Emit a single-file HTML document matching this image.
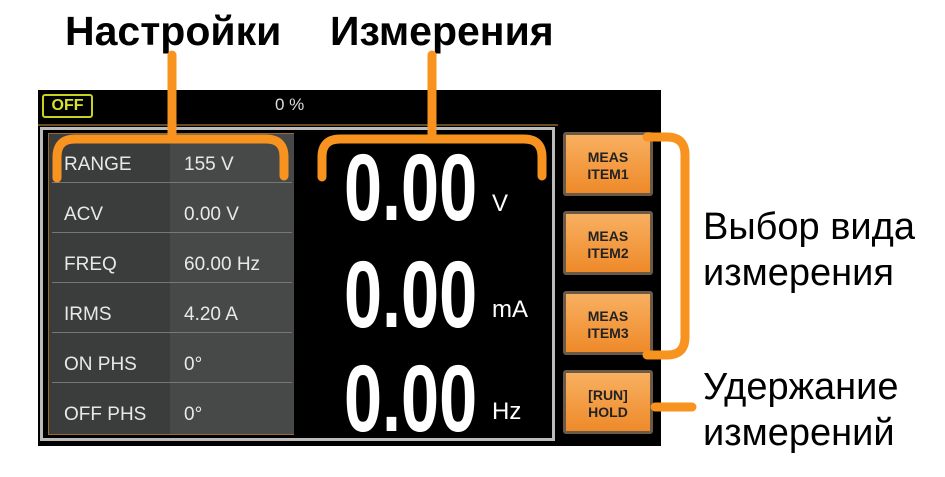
<!DOCTYPE html>
<html><head><meta charset="utf-8"><style>
body{margin:0;width:945px;height:477px;background:#fff;position:relative;overflow:hidden;font-family:"Liberation Sans",sans-serif}
.a{position:absolute}
.h{font-weight:bold;font-size:41px;color:#000}
.r{font-size:38px;color:#000;line-height:46px}
.row{position:absolute;left:52px;width:240px;height:48px;border-bottom:1px solid #777;color:#e8e8e8;font-size:19px}
.row span{position:absolute;top:20px}
.dig{position:absolute;left:344px;color:#fff;font-size:95px;line-height:95px;transform:scaleX(0.72);transform-origin:left;font-weight:bold;letter-spacing:0px}
.u{position:absolute;color:#fff;font-size:24px}
.btn{position:absolute;left:563px;width:90px;height:64px;background:linear-gradient(#f8b060,#ee8a2a);border:3px solid #6b5a48;border-radius:3px;box-sizing:border-box;color:#222;font-weight:bold;font-size:14px;text-align:center;line-height:17px;padding-top:14px}
</style></head><body>
<div class="a h" style="left:65px;top:8px">Настройки</div>
<div class="a h" style="left:330px;top:8px">Измерения</div>
<div class="a r" style="left:703px;top:204px">Выбор вида<br>измерения</div>
<div class="a r" style="left:703px;top:364px">Удержание<br>измерений</div>

<div class="a" style="left:38px;top:90px;width:623px;height:356px;background:#000"></div>
<div class="a" style="left:42px;top:94px;width:47px;height:20px;border:2px solid #c8d020;border-radius:3px;color:#d8e030;font-weight:bold;font-size:16px;text-align:center;line-height:20px">OFF</div>
<div class="a" style="left:275px;top:95px;color:#ddd;font-size:17px">0 %</div>
<div class="a" style="left:38px;top:124px;width:520px;height:2px;background:#6a4a20"></div>
<div class="a" style="left:40px;top:127px;width:515px;height:314px;border:3px solid #bbb;box-sizing:border-box"></div>
<div class="a" style="left:48px;top:133px;width:246px;height:302px;background:#3b3d3d;border:1px solid #9a6a30;box-sizing:border-box"></div>
<div class="a" style="left:170px;top:134px;width:124px;height:300px;background:#474949"></div>

<div class="row" style="top:134px"><span style="left:12px">RANGE</span><span style="left:132px">155 V</span></div>
<div class="row" style="top:184px"><span style="left:12px">ACV</span><span style="left:132px">0.00 V</span></div>
<div class="row" style="top:234px"><span style="left:12px">FREQ</span><span style="left:132px">60.00 Hz</span></div>
<div class="row" style="top:284px"><span style="left:12px">IRMS</span><span style="left:132px">4.20 A</span></div>
<div class="row" style="top:334px"><span style="left:12px">ON PHS</span><span style="left:132px">0°</span></div>
<div class="row" style="top:384px;border:none"><span style="left:12px">OFF PHS</span><span style="left:132px">0°</span></div>

<div class="dig" style="top:141px">0.00</div>
<div class="u" style="left:492px;top:190px">V</div>
<div class="dig" style="top:248px">0.00</div>
<div class="u" style="left:492px;top:296px">mA</div>
<div class="dig" style="top:352px">0.00</div>
<div class="u" style="left:492px;top:398px">Hz</div>

<div class="btn" style="top:132px">MEAS<br>ITEM1</div>
<div class="btn" style="top:211px">MEAS<br>ITEM2</div>
<div class="btn" style="top:291px">MEAS<br>ITEM3</div>
<div class="btn" style="top:370px">[RUN]<br>HOLD</div>

<svg class="a" style="left:0;top:0" width="945" height="477">
<g fill="none" stroke="#f7931e" stroke-width="9" stroke-linecap="round" stroke-linejoin="round">
<path d="M172 55V139M57 178V157Q57 139 75 139H266Q284 139 284 157V176"/>
<path d="M432 55V139M322 177V157Q322 139 340 139H524Q542 139 542 157V176"/>
<path d="M647 137H667Q685 137 685 155V337Q685 355 667 355H647"/>
<path d="M655 407H692"/>
</g></svg>
</body></html>
